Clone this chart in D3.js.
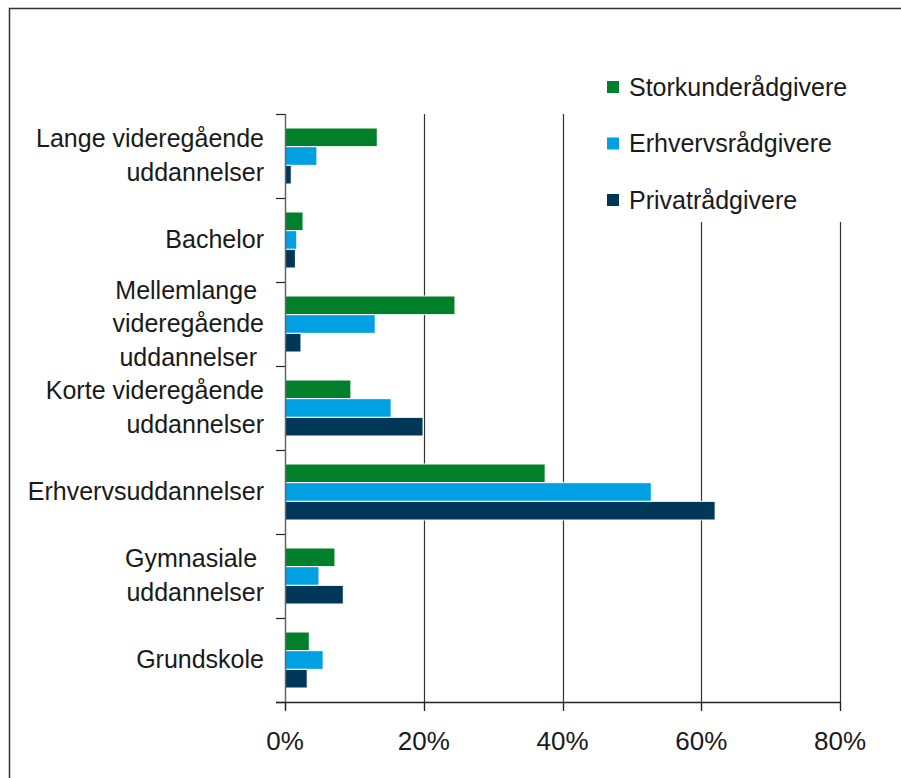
<!DOCTYPE html>
<html>
<head>
<meta charset="utf-8">
<script src="https://cdn.jsdelivr.net/npm/d3@7"></script>
<style>
  html, body { margin: 0; padding: 0; background: #fff; }
  svg { display: block; font-family: "Liberation Sans", Arial, sans-serif; }
</style>
</head>
<body>
<div id="chart"></div>
<script>
// Uddannelsesniveau fordelt på rådgivertype (andel i %)
const categories = [
    ['Lange videregående', 'uddannelser'],
    ['Bachelor'],
    ['Mellemlange ', 'videregående', 'uddannelser '],
    ['Korte videregående', 'uddannelser'],
    ['Erhvervsuddannelser'],
    ['Gymnasiale ', 'uddannelser'],
    ['Grundskole']
];
const series = ['Storkunderådgivere', 'Erhvervsrådgivere', 'Privatrådgivere'];
const storkunde = [13.3, 2.6, 24.5, 9.5, 37.5, 7.2, 3.5];
const erhverv   = [4.6, 1.7, 13.0, 15.3, 52.8, 4.9, 5.5];
const privat    = [0.9, 1.5, 2.3, 19.9, 62.0, 8.4, 3.2];
const xTicks = [0, 20, 40, 60, 80];
const colors = ['#00802b', '#00a0e2', '#003658'];

const W = 901, H = 778;
const values = [storkunde, erhverv, privat];

const svg = d3.select('#chart').append('svg')
    .attr('width', W)
    .attr('height', H);

// Frame (open at right and bottom)
svg.append('rect')
    .attr('x', 9.5).attr('y', 8.5)
    .attr('width', 950).attr('height', 850)
    .attr('fill', 'none')
    .attr('stroke', '#333')
    .attr('stroke-width', 1.5);

const x = d3.scaleLinear().domain([0, 80]).range([285, 840]);
const y = d3.scaleBand()
    .domain(d3.range(categories.length))
    .range([114, 702])
    .paddingInner(1 / 3)
    .paddingOuter(1 / 6);
const ySub = d3.scaleBand()
    .domain(d3.range(series.length))
    .range([0, y.bandwidth()]);
const step = y.step();

// Gridlines
svg.append('g')
    .selectAll('line')
    .data(xTicks.slice(1))
    .join('line')
    .attr('x1', d => Math.round(x(d)) + 0.5)
    .attr('x2', d => Math.round(x(d)) + 0.5)
    .attr('y1', 114)
    .attr('y2', 710)
    .attr('stroke', '#333')
    .attr('stroke-width', 1.2);

// Bars
const groups = svg.append('g')
    .selectAll('g')
    .data(categories.map((c, i) => i))
    .join('g')
    .attr('transform', i => `translate(0,${y(i)})`);

groups.selectAll('rect')
    .data(i => values.map((v, s) => ({ s, v: v[i] })))
    .join('rect')
    .attr('x', x(0))
    .attr('y', d => ySub(d.s))
    .attr('width', d => x(d.v) - x(0))
    .attr('height', ySub.bandwidth())
    .attr('fill', d => colors[d.s])
    .attr('stroke', '#fff')
    .attr('stroke-width', 1);

// Y axis with boundary ticks
const yAxis = svg.append('g');
yAxis.append('line')
    .attr('x1', x(0) + 0.5).attr('x2', x(0) + 0.5)
    .attr('y1', 114).attr('y2', 710)
    .attr('stroke', '#666').attr('stroke-width', 1.5);
yAxis.selectAll('line.tick')
    .data(d3.range(categories.length + 1))
    .join('line')
    .attr('class', 'tick')
    .attr('x1', 276).attr('x2', x(0))
    .attr('y1', i => 114 + i * step + 0.5)
    .attr('y2', i => 114 + i * step + 0.5)
    .attr('stroke', '#222').attr('stroke-width', 1.2);

// Category labels
const lineH = 33.5;
svg.append('g')
    .selectAll('text')
    .data(categories)
    .join('text')
    .attr('text-anchor', 'end')
    .attr('font-size', '25px')
    .attr('fill', '#1a1a1a')
    .style('white-space', 'pre')
    .each(function(lines, i) {
        const cy = y(i) + y.bandwidth() / 2;
        const y0 = cy - (lines.length - 1) * lineH / 2 + 8;
        d3.select(this).selectAll('tspan')
            .data(lines)
            .join('tspan')
            .attr('x', 264)
            .attr('y', (l, k) => y0 + k * lineH)
            .text(l => l);
    });

// X axis
const xAxis = svg.append('g');
xAxis.append('line')
    .attr('x1', 276).attr('x2', x(80) + 1)
    .attr('y1', 702.5).attr('y2', 702.5)
    .attr('stroke', '#222').attr('stroke-width', 1.5);
xAxis.selectAll('line.tick')
    .data(xTicks)
    .join('line')
    .attr('class', 'tick')
    .attr('x1', d => Math.round(x(d)) + 0.5)
    .attr('x2', d => Math.round(x(d)) + 0.5)
    .attr('y1', 702).attr('y2', 711)
    .attr('stroke', '#222').attr('stroke-width', 1.2);
xAxis.selectAll('text')
    .data(xTicks)
    .join('text')
    .attr('x', d => x(d))
    .attr('y', 750)
    .attr('text-anchor', 'middle')
    .attr('font-size', '26px')
    .attr('fill', '#1a1a1a')
    .text(d => d + '%');

// Legend (white box covers gridlines)
const legend = svg.append('g');
legend.append('rect')
    .attr('x', 596).attr('y', 60)
    .attr('width', 270).attr('height', 162)
    .attr('fill', '#fff');
const li = legend.selectAll('g')
    .data(series)
    .join('g')
    .attr('transform', (d, i) => `translate(607,${87 + i * 56.5})`);
li.append('rect')
    .attr('x', 0).attr('y', -6)
    .attr('width', 12).attr('height', 12)
    .attr('fill', (d, i) => colors[i]);
li.append('text')
    .attr('x', 22).attr('y', 8.5)
    .attr('font-size', '25px')
    .attr('fill', '#1a1a1a')
    .text(d => d);
</script>
</body>
</html>
